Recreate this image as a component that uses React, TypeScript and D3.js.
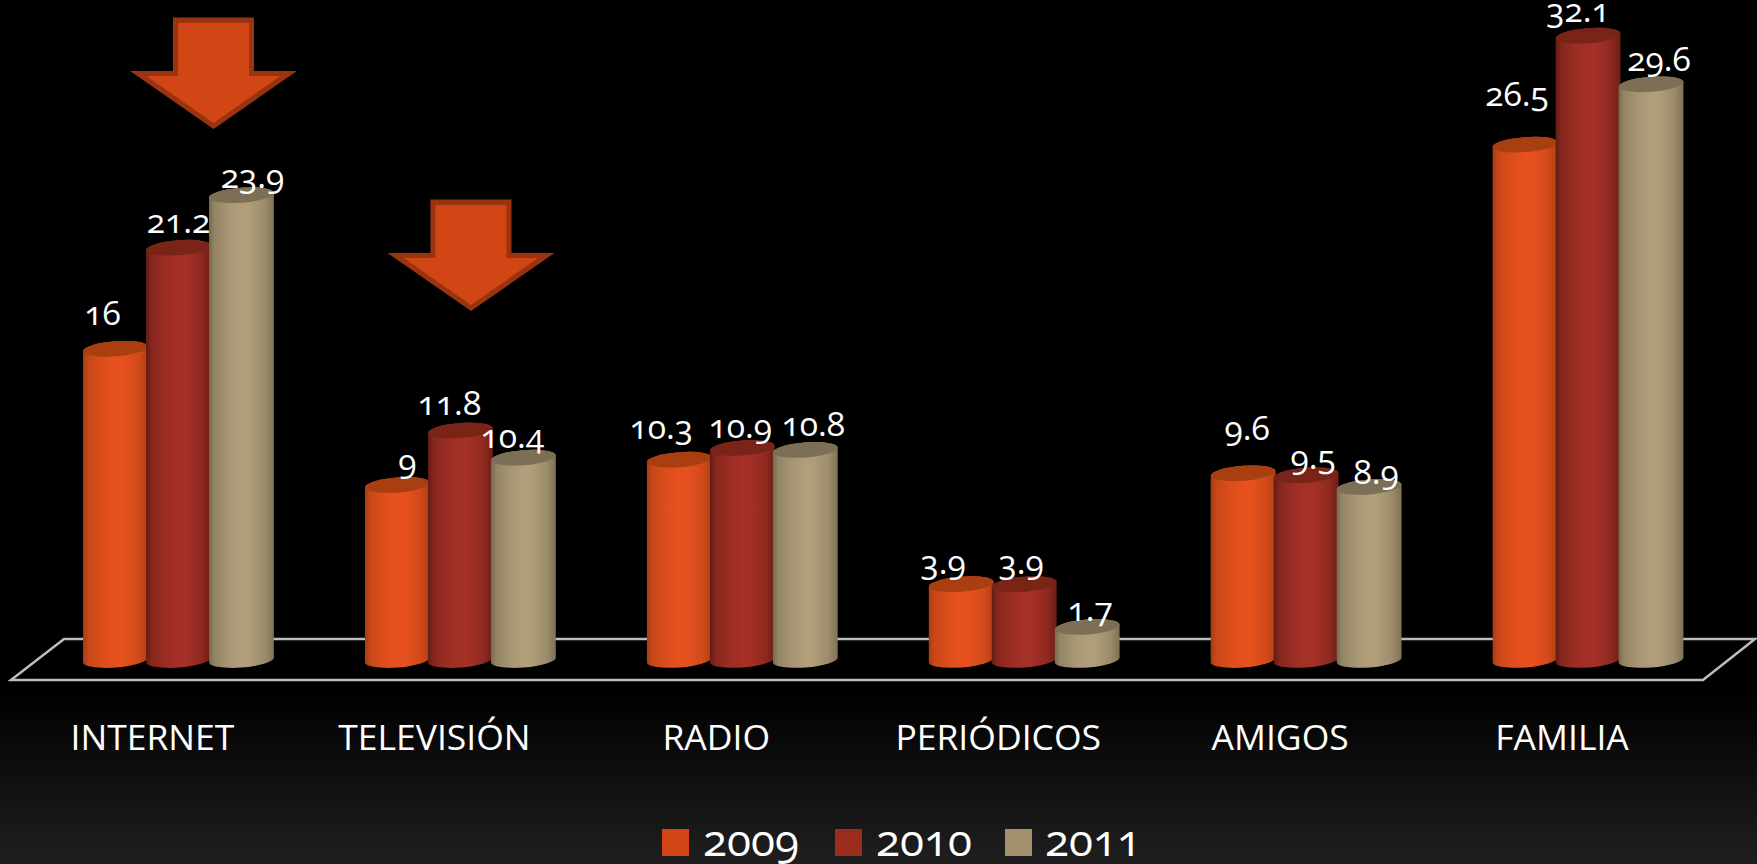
import React from "react";
import * as d3 from "d3";

const categories = ["INTERNET", "TELEVISIÓN", "RADIO", "PERIÓDICOS", "AMIGOS", "FAMILIA"];
const seriesNames = ["2009", "2010", "2011"];
const values2009 = [16, 9, 10.3, 3.9, 9.6, 26.5];
const values2010 = [21.2, 11.8, 10.9, 3.9, 9.5, 32.1];
const values2011 = [23.9, 10.4, 10.8, 1.7, 8.9, 29.6];
const allValues = [values2009, values2010, values2011];

const legendColors = ["#d24615", "#9b2d1f", "#a5906e"];
const brightColors = ["#e6511e", "#a53027", "#b09e7a"];
const sideColors = ["#a83c12", "#621c12", "#766a50"];
const capColors = ["#a93e11", "#7a2418", "#7d6f55"];

// hand-moved data label offsets from each cylinder's top centre: [dx, dy] per series, per category
const labelNudge = [
  [[-13, -34], [10, -22], [-18, -31], [-18, -20], [4, -43], [-8, -49]],
  [[0, -25], [-11, -26], [-2, -20], [-3, -20], [7, -16], [-10, -24]],
  [[11, -17], [-11, -20], [8, -24], [3, -16], [7, -13], [8, -23]],
];

const W = 1757;
const H = 864;
const FONT = "'Open Sans', sans-serif";

const x = d3.scaleBand<string>().domain(categories).range([37.5, 1729]);
const seriesX = d3.scaleLinear().domain([0, 1]).range([0, 63]);
const y = d3.scaleLinear().domain([0, 32.1]).range([660, 35.7]);

const RX = 32.5;
const RY = 7.5;
const TILT = -4.4;
const TILT_DY = RX * Math.sin((-TILT * Math.PI) / 180);
const TILT_DX = RX * Math.cos((-TILT * Math.PI) / 180);

function cylinderSide(cx: number, top: number, base: number) {
  const p = d3.path();
  p.moveTo(cx - TILT_DX, top + TILT_DY);
  p.lineTo(cx - TILT_DX, base + TILT_DY);
  const arc = `A${RX},${RY} ${TILT} 0 0 ${cx + TILT_DX},${base - TILT_DY}`;
  const arcTop = `A${RX},${RY} ${TILT} 0 0 ${cx - TILT_DX},${top + TILT_DY}`;
  return `${p.toString()}${arc}L${cx + TILT_DX},${top - TILT_DY}${arcTop}Z`;
}

function arrowShape(cx: number, top: number, halfShaft: number, shoulder: number, halfWing: number, tip: number) {
  return d3.line()([
    [cx - halfShaft, top],
    [cx + halfShaft, top],
    [cx + halfShaft, shoulder],
    [cx + halfWing, shoulder],
    [cx, tip],
    [cx - halfWing, shoulder],
    [cx - halfShaft, shoulder],
  ]) + "Z";
}

const arrowOrigins = [
  { cx: 213.5, top: 17.5 },
  { cx: 471, top: 199.5 },
];

const floorBackY = 639;
const floorFrontY = 680;
const legendX = [662, 835, 1005];
const legendTextX = [703, 876, 1045];

// horizontal shading across a cylinder: [offset, brightness]
const shade: [number, number][] = [
  [0, 0],
  [0.08, 0.5],
  [0.3, 0.85],
  [0.48, 1],
  [0.62, 1],
  [0.86, 0.65],
  [1, 0.15],
];

export default function App() {
  return (
    <svg
      width={W}
      height={H}
      viewBox={`0 0 ${W} ${H}`}
      style={{ position: "fixed", left: 0, top: 0, display: "block" }}
    >
      <defs>
        <linearGradient id="bg" x1="0" y1="0" x2="0" y2="1">
          <stop offset="0.8" stopColor="#000" />
          <stop offset="1" stopColor="#1f1f1f" />
        </linearGradient>
        {seriesNames.map((s, i) => (
          <linearGradient key={s} id={`cyl${i}`} x1="0" y1="0" x2="1" y2="0">
            {shade.map(([o, t]) => (
              <stop key={o} offset={o} stopColor={d3.interpolateRgb(sideColors[i], brightColors[i])(t)} />
            ))}
          </linearGradient>
        ))}
      </defs>
      <rect width={W} height={H} fill="url(#bg)" />

      {/* floor */}
      <path
        d={`M11,${floorFrontY}L64,${floorBackY}L1755,${floorBackY}L1703,${floorFrontY}Z`}
        fill="none"
        stroke="#bdbdbd"
        strokeWidth={2.5}
      />

      {/* cylinders */}
      {categories.map((c, ci) => {
        const left = (x(c) as number) + x.bandwidth() / 2 - 63;
        return (
          <g key={c}>
            {allValues.map((vals, si) => {
              const cx = left + seriesX(si);
              const top = y(vals[ci]);
              return (
                <g key={si}>
                  <path d={cylinderSide(cx, top, y(0))} fill={`url(#cyl${si})`} />
                  <ellipse
                    cx={cx}
                    cy={top}
                    rx={RX}
                    ry={RY}
                    transform={`rotate(${TILT} ${cx} ${top})`}
                    fill={capColors[si]}
                  />
                </g>
              );
            })}
          </g>
        );
      })}

      {/* data labels */}
      {categories.map((c, ci) => {
        const left = (x(c) as number) + x.bandwidth() / 2 - 63;
        return allValues.map((vals, si) => {
          const [dx, dy] = labelNudge[si][ci];
          return (
            <text
              key={`${c}${si}`}
              x={left + seriesX(si) + dx}
              y={y(vals[ci]) + dy + 10}
              textAnchor="middle"
              fill="#fff"
              fontFamily={FONT}
              fontSize={33.5}
              style={{ fontVariantNumeric: "oldstyle-nums" }}
            >
              {String(vals[ci])}
            </text>
          );
        });
      })}

      {/* arrows */}
      {arrowOrigins.map((a) => (
        <g key={a.cx}>
          <path d={arrowShape(a.cx, a.top, 40.5, a.top + 53.5, 83.5, a.top + 111.5) as string} fill="#9a3410" />
          <path d={arrowShape(a.cx, a.top + 5.5, 35.5, a.top + 58.5, 67, a.top + 105.5) as string} fill="#d24615" />
        </g>
      ))}

      {/* category labels */}
      {categories.map((c) => (
        <text
          key={c}
          x={(x(c) as number) + x.bandwidth() / 2 - 26}
          y={750}
          textAnchor="middle"
          fill="#fff"
          fontFamily={FONT}
          fontSize={35.5}
        >
          {c}
        </text>
      ))}

      {/* legend */}
      {seriesNames.map((s, i) => (
        <g key={s}>
          <rect x={legendX[i]} y={829} width={27} height={27} fill={legendColors[i]} />
          <text
            x={legendTextX[i]}
            y={856}
            fill="#fff"
            fontFamily={FONT}
            fontSize={44}
            style={{ fontVariantNumeric: "oldstyle-nums" }}
          >
            {s}
          </text>
        </g>
      ))}
    </svg>
  );
}
